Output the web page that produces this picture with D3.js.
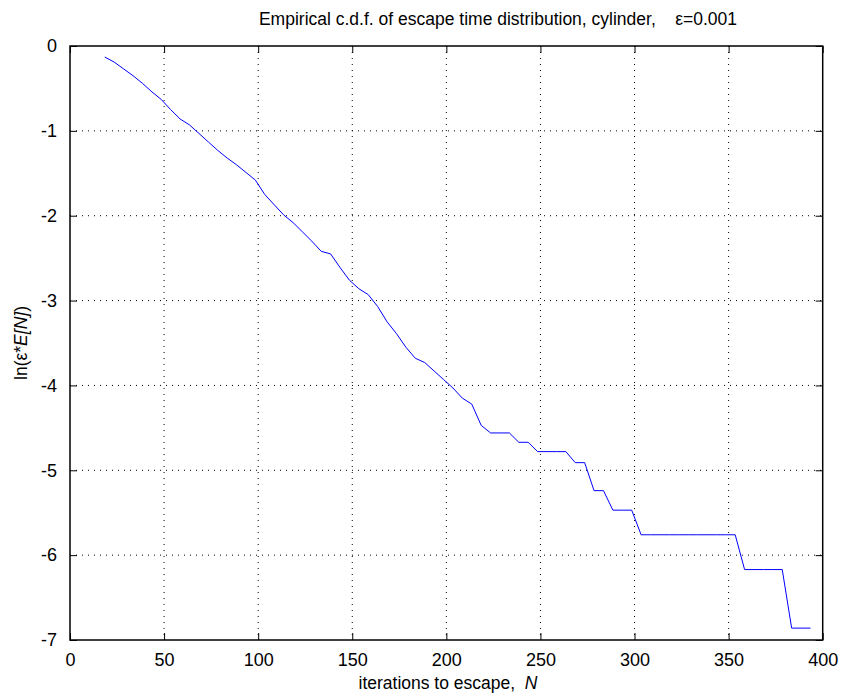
<!DOCTYPE html>
<html>
<head>
<meta charset="utf-8">
<script src="https://cdn.jsdelivr.net/npm/d3@7.9.0/dist/d3.min.js"></script>
<style>
  body { margin: 0; background: #fff; }
  svg text { font-family: "Liberation Sans", Arial, sans-serif; fill: #000; white-space: pre; }
</style>
</head>
<body>
<div id="chart"></div>
<script>
// iterations to escape N
const iterations = [
  18.5, 23.5, 28.5, 33.5, 38.5, 43.5, 48.5, 53.5, 58.5, 63.5,
  68.5, 73.5, 78.5, 83.5, 88.5, 93.5, 98.5, 103.5, 108.5, 113.5,
  118.5, 123.5, 128.5, 133.5, 138.5, 143.5, 148.5, 153.5, 158.5, 163.5,
  168.5, 173.5, 178.5, 183.5, 188.5, 193.5, 198.5, 203.5, 208.5, 213.5,
  218.5, 223.5, 228.5, 233.5, 238.5, 243.5, 248.5, 253.5, 258.5, 263.5,
  268.5, 273.5, 278.5, 283.5, 288.5, 293.5, 298.5, 303.5, 308.5, 313.5,
  318.5, 323.5, 328.5, 333.5, 338.5, 343.5, 348.5, 353.5, 358.5, 363.5,
  368.5, 373.5, 378.5, 383.5, 388.5, 393.5
];
// ln(eps * E[N])
const lnValues = [
  -0.13, -0.19, -0.27, -0.35, -0.44, -0.54, -0.63, -0.75, -0.86, -0.93,
  -1.03, -1.13, -1.23, -1.32, -1.40, -1.49, -1.58, -1.75, -1.87, -1.99,
  -2.08, -2.19, -2.30, -2.42, -2.45, -2.61, -2.76, -2.86, -2.93, -3.07,
  -3.25, -3.39, -3.55, -3.68, -3.73, -3.83, -3.93, -4.03, -4.15, -4.22,
  -4.47, -4.56, -4.56, -4.56, -4.67, -4.67, -4.78, -4.78, -4.78, -4.78,
  -4.91, -4.91, -5.24, -5.24, -5.47, -5.47, -5.47, -5.76, -5.76, -5.76,
  -5.76, -5.76, -5.76, -5.76, -5.76, -5.76, -5.76, -5.76, -6.17, -6.17,
  -6.17, -6.17, -6.17, -6.86, -6.86, -6.86
];
const xTicks = [0, 50, 100, 150, 200, 250, 300, 350, 400];
const yTicks = [0, -1, -2, -3, -4, -5, -6, -7];

const width = 842;
const height = 699;
const margin = { top: 46, right: 19.3, bottom: 59, left: 70 };

const svg = d3.select('#chart')
  .append('svg')
  .attr('width', width)
  .attr('height', height);

const x = d3.scaleLinear().domain([0, 400]).range([margin.left, width - margin.right]);
const y = d3.scaleLinear().domain([-7, 0]).range([height - margin.bottom, margin.top]);

const plotW = x(400) - x(0);
const plotH = y(-7) - y(0);

// dotted grid
const grid = svg.append('g').attr('class', 'grid');
grid.selectAll('line.vx')
  .data(xTicks.slice(1, -1))
  .join('line')
  .attr('x1', d => x(d)).attr('x2', d => x(d))
  .attr('y1', y(0)).attr('y2', y(-7))
  .attr('stroke', '#000')
  .attr('stroke-width', 1)
  .attr('stroke-dasharray', '1,5');
grid.selectAll('line.hy')
  .data(yTicks.slice(1, -1))
  .join('line')
  .attr('x1', x(0)).attr('x2', x(400))
  .attr('y1', d => y(d)).attr('y2', d => y(d))
  .attr('stroke', '#000')
  .attr('stroke-width', 1)
  .attr('stroke-dasharray', '1,5');

// data line
const pts = iterations.map((n, i) => [n, lnValues[i]]);
svg.append('path')
  .datum(pts)
  .attr('fill', 'none')
  .attr('stroke', '#0000ff')
  .attr('stroke-width', 1)
  .attr('d', d3.line().x(d => x(d[0])).y(d => y(d[1])));

// axes with inward ticks
const tickLen = 7;
const fmt = d => String(d);
const xAxisB = svg.append('g')
  .attr('transform', `translate(0, ${y(-7)})`)
  .call(d3.axisBottom(x).tickValues(xTicks).tickSizeInner(-tickLen).tickSizeOuter(0).tickPadding(13).tickFormat(fmt));
const xAxisT = svg.append('g')
  .attr('transform', `translate(0, ${y(0)})`)
  .call(d3.axisTop(x).tickValues(xTicks).tickSizeInner(-tickLen).tickSizeOuter(0).tickFormat(''));
const yAxisL = svg.append('g')
  .attr('transform', `translate(${x(0)}, 0)`)
  .call(d3.axisLeft(y).tickValues(yTicks).tickSizeInner(-tickLen).tickSizeOuter(0).tickPadding(13).tickFormat(fmt));
const yAxisR = svg.append('g')
  .attr('transform', `translate(${x(400)}, 0)`)
  .call(d3.axisRight(y).tickValues(yTicks).tickSizeInner(-tickLen).tickSizeOuter(0).tickFormat(''));

[xAxisB, xAxisT, yAxisL, yAxisR].forEach(g => {
  g.select('.domain').remove();
  g.selectAll('line').attr('stroke', '#000');
  g.selectAll('text')
    .style('font-family', '"Liberation Sans", Arial, sans-serif')
    .style('font-size', '18px')
    .attr('fill', '#000');
});

// frame
svg.append('rect')
  .attr('x', x(0)).attr('y', y(0))
  .attr('width', plotW).attr('height', plotH)
  .attr('fill', 'none')
  .attr('stroke', '#000')
  .attr('stroke-width', 1.5);

// title
svg.append('text')
  .attr('x', 498)
  .attr('y', 25)
  .attr('text-anchor', 'middle')
  .style('font-size', '17.5px')
  .text('Empirical c.d.f. of escape time distribution, cylinder,    ε=0.001');

// x label
const xl = svg.append('text')
  .attr('x', 448)
  .attr('y', 689)
  .attr('text-anchor', 'middle')
  .style('font-size', '17.5px');
xl.append('tspan').text('iterations to escape,  ');
xl.append('tspan').style('font-style', 'italic').text('N');

// y label
const yl = svg.append('text')
  .attr('transform', `translate(27, ${(y(0) + y(-7)) / 2}) rotate(-90)`)
  .attr('text-anchor', 'middle')
  .style('font-size', '17.5px');
yl.append('tspan').text('ln(ε*');
yl.append('tspan').style('font-style', 'italic').text('E[N]');
yl.append('tspan').text(')');
</script>
</body>
</html>
